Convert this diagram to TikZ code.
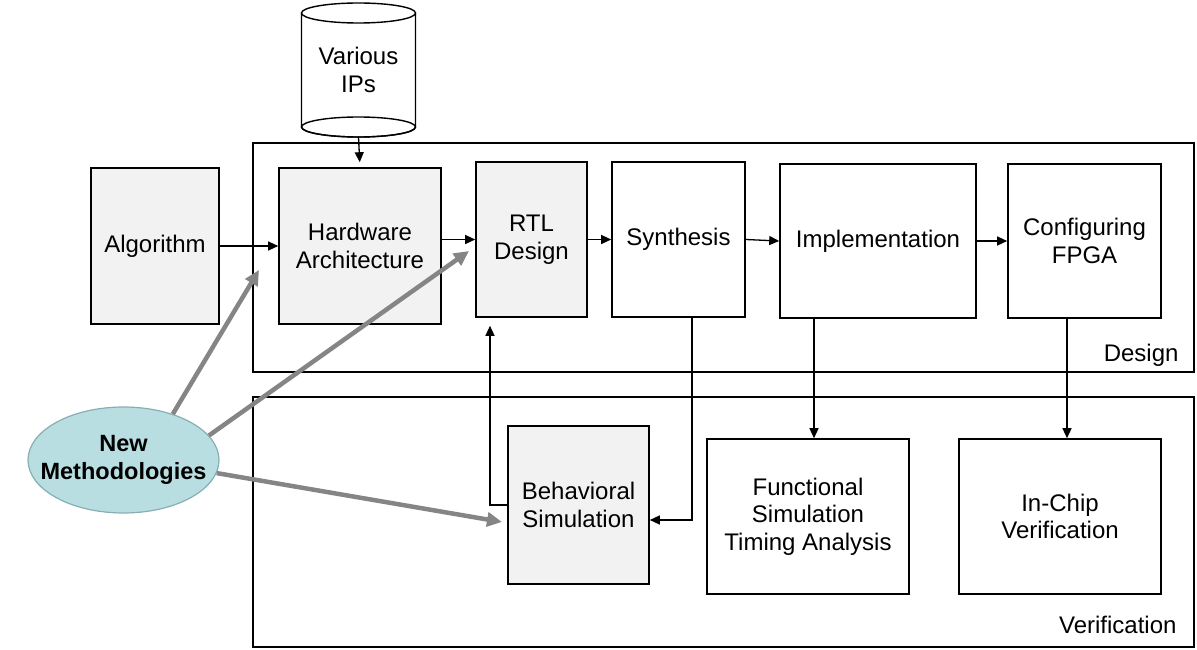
\documentclass[tikz,border=0pt]{standalone}
\usepackage{fontspec}
\setmainfont{Liberation Sans}
\usetikzlibrary{arrows.meta,shapes.geometric,calc}
\definecolor{boxgray}{HTML}{F2F2F2}
\definecolor{ellfill}{HTML}{B8DEE2}
\definecolor{elldraw}{HTML}{86AEB3}
\definecolor{arrgray}{HTML}{858585}
\begin{document}
\begin{tikzpicture}[x=1pt,y=-1pt,
  every node/.style={font=\fontsize{24}{27.5}\selectfont},
  stepbox/.style={draw=black,line width=1.6pt,align=center,inner sep=0pt},
  graybox/.style={stepbox,fill=boxgray},
  whitebox/.style={stepbox,fill=white},
  frame/.style={draw=black,line width=1.6pt},
  arr/.style={-{Triangle[length=10pt,width=9pt]},line width=1.3pt,black},
  bigarr/.style={-{Triangle[length=15pt,width=14pt]},line width=4.5pt,arrgray}]
\useasboundingbox (0,0) rectangle (1197,650);
% frames
\draw[frame] (253,143) rectangle (1194,372);
\draw[frame] (253,397) rectangle (1194,647);
\node[anchor=base east] (dlab) at (1182,361) {Design};
\node[anchor=base east] (vlab) at (1180,633) {Verification};
% cylinder
\draw[line width=1.4pt,fill=white] (301.5,13) -- (301.5,127) arc[start angle=180,end angle=0,x radius=57,y radius=10] -- (415.5,13);
\draw[line width=1.4pt] (358.5,127) ellipse[x radius=57,y radius=10];
\draw[line width=1.4pt,fill=white] (358.5,13) ellipse[x radius=57,y radius=10];
\node[inner sep=0pt,minimum width=114pt,minimum height=134pt,align=center] (ips) at (358.5,70) {Various\\IPs};
% nodes
\node[graybox,minimum width=128pt,minimum height=156pt] (alg) at (155,246) {Algorithm};
\node[graybox,minimum width=162pt,minimum height=156pt] (hw) at (360,246) {Hardware\\Architecture};
\node[graybox,minimum width=111pt,minimum height=155pt] (rtl) at (531.5,239.5) {RTL\\Design};
\node[whitebox,minimum width=133pt,minimum height=155pt] (syn) at (678.5,239.5) {Synthesis};
\node[whitebox,minimum width=196pt,minimum height=154pt] (impl) at (878,241) {Implementation};
\node[whitebox,minimum width=153pt,minimum height=154pt] (cfg) at (1084.5,241) {Configuring\\FPGA};
\node[graybox,minimum width=141pt,minimum height=158pt] (beh) at (578.5,505) {Behavioral\\Simulation};
\node[whitebox,minimum width=202pt,minimum height=155pt] (fun) at (808,516.5) {Functional\\Simulation\\Timing Analysis};
\node[whitebox,minimum width=202pt,minimum height=155pt] (chip) at (1060,516.5) {In-Chip\\Verification};
\node[ellipse,draw=elldraw,line width=1.2pt,fill=ellfill,minimum width=191pt,minimum height=106pt,inner sep=0pt,
  label={[align=center,font=\fontsize{23.5}{27.5}\selectfont\bfseries]center:New\\Methodologies}] (nm) at (123.5,460) {};
% connectors
\draw[arr,shorten >=5pt] (ips.south) -- (hw.north);
\draw[arr] (alg.east) -- (hw.west);
\draw[arr] (hw.east |- rtl.west) -- (rtl.west);
\draw[arr] (rtl.east) -- (syn.west);
\draw[arr] (syn.east) -- (impl.west);
\draw[arr] (impl.east) -- (cfg.west);
\draw[arr] ([xshift=13.5pt]syn.south) |- ([yshift=-15pt]beh.east);
\draw[arr,shorten >=8pt] (beh.west) -| ([xshift=-41.5pt]rtl.south);
\draw[arr] ([xshift=-64pt]impl.south) -- ([xshift=-64pt]impl.south |- fun.north);
\draw[arr] ([xshift=-17.5pt]cfg.south) -- ([xshift=-17.5pt]cfg.south |- chip.north);
% new methodology arrows
\coordinate (t1) at (259,270);
\coordinate (t2) at (469,251);
\coordinate (t3) at (502,522);
\draw[bigarr] (nm.43) -- (t1);
\draw[bigarr] (nm.16.5) -- (t2);
\draw[bigarr] (nm.-8) -- (t3);
\end{tikzpicture}
\end{document}
